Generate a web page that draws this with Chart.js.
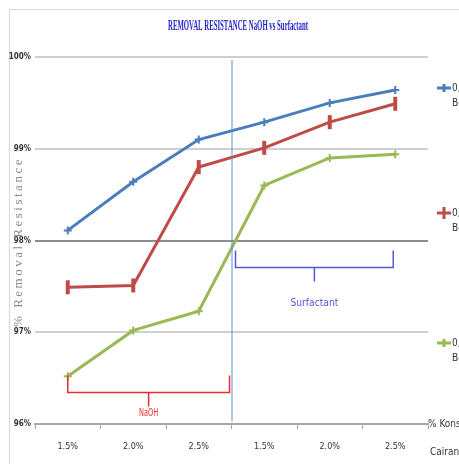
<!DOCTYPE html>
<html><head><meta charset="utf-8">
<script src="https://cdn.jsdelivr.net/npm/chart.js@4/dist/chart.umd.min.js"></script>
<style>html,body{margin:0;padding:0;background:#fff;overflow:hidden}#wrap{width:459px;height:464px;position:relative}</style>
</head><body><div id="wrap"><canvas id="c" width="459" height="464"></canvas></div>
<script>
const categories = ['1.5%','2.0%','2.5%','1.5%','2.0%','2.5%'];
const seriesNames = [['0,1 gr','Bentonit'],['0,2 gr','Bentonit'],['0,3 gr','Bentonit']];
const blueValues  = [98.11, 98.64, 99.10, 99.29, 99.50, 99.64];
const redValues   = [97.49, 97.51, 98.80, 99.01, 99.29, 99.49];
const greenValues = [96.52, 97.02, 97.23, 98.60, 98.90, 98.94];
const yTicks = [96, 97, 98, 99, 100];
const groupLabels = ['NaOH', 'Surfactant'];
const titleText = 'REMOVAL RESISTANCE NaOH vs Surfactant';
const yTitle = '% Removal Resistance';
const xTitle = ['% Konsentrasi', 'Cairan Pencuci'];

const COLORS = ['#4a7ebb', '#be4b48', '#98b954'];
const NARROW = "'Liberation Sans Narrow','DejaVu Sans Condensed','Liberation Sans',sans-serif";

function condensedText(ctx, text, x, y, width, align) {
  const w = ctx.measureText(text).width;
  const s = Math.min(1, width / w);
  ctx.save();
  ctx.translate(x, y);
  ctx.scale(s, 1);
  ctx.textAlign = align || 'center';
  ctx.fillText(text, 0, 0);
  ctx.restore();
}

const overlay = {
  id: 'overlay',
  beforeDraw(chart) {
    const ctx = chart.ctx;
    ctx.save();
    ctx.fillStyle = '#fff';
    ctx.fillRect(0, 0, chart.width, chart.height);
    ctx.strokeStyle = '#d9d9d9';
    ctx.lineWidth = 1;
    ctx.strokeRect(9.5, 9.5, 600, 600);
    ctx.restore();
  },
  afterDatasetsDraw(chart) {
    const ctx = chart.ctx;
    const xs = chart.scales.x, ys = chart.scales.y;
    const ca = chart.chartArea;
    ctx.save();
    // title
    ctx.fillStyle = '#2323c8';
    ctx.font = "bold 15px 'Liberation Serif','DejaVu Serif',serif";
    ctx.textBaseline = 'middle';
    condensedText(ctx, titleText, 238, 26, 140, 'center');

    // y axis title
    ctx.save();
    ctx.translate(19, 242);
    ctx.rotate(-Math.PI / 2);
    ctx.fillStyle = '#8a8a8a';
    ctx.font = "13px 'Liberation Serif','DejaVu Serif',serif";
    ctx.textAlign = 'center';
    ctx.textBaseline = 'middle';
    if (ctx.letterSpacing !== undefined) ctx.letterSpacing = '2.5px';
    ctx.fillText(yTitle, 0, 0);
    ctx.restore();

    // vertical separator
    const sep = (xs.getPixelForValue(2) + xs.getPixelForValue(3)) / 2;
    ctx.strokeStyle = '#5b8fd6';
    ctx.lineWidth = 1;
    ctx.beginPath();
    ctx.moveTo(sep + 0.5, 60);
    ctx.lineTo(sep + 0.5, ca.bottom - 3);
    ctx.stroke();

    // brackets
    function bracket(x1, x2, yv, color, label, labelDy) {
      const y = Math.round(ys.getPixelForValue(yv)) + 0.5;
      const mid = (x1 + x2) / 2;
      ctx.strokeStyle = color;
      ctx.lineWidth = 1.5;
      ctx.beginPath();
      ctx.moveTo(x1, y - 17);
      ctx.lineTo(x1, y);
      ctx.lineTo(x2, y);
      ctx.lineTo(x2, y - 17);
      ctx.moveTo(mid, y);
      ctx.lineTo(mid, y + 14);
      ctx.stroke();
      ctx.fillStyle = color;
      ctx.font = "11px " + NARROW;
      ctx.textBaseline = 'middle';
      condensedText(ctx, label, mid, y + labelDy, label.length * 4.8, 'center');
    }
    bracket(xs.getPixelForValue(0), sep - 2, 96.35, '#ee2a2a', groupLabels[0], 21);
    bracket(sep + 4, xs.getPixelForValue(5) - 2, 97.71, '#5555dd', groupLabels[1], 36);

    // legend
    const legY = [88, 213, 343];
    for (let i = 0; i < 3; i++) {
      const y = legY[i];
      ctx.strokeStyle = COLORS[i];
      ctx.lineWidth = 3;
      ctx.beginPath();
      ctx.moveTo(437, y); ctx.lineTo(451, y);
      ctx.moveTo(444, y - (i === 1 ? 6 : 4)); ctx.lineTo(444, y + (i === 1 ? 6 : 4));
      ctx.stroke();
      ctx.fillStyle = '#333';
      ctx.font = "10px " + NARROW;
      ctx.textAlign = 'left';
      ctx.textBaseline = 'middle';
      ctx.fillText(seriesNames[i][0], 452, y);
      ctx.fillText(seriesNames[i][1], 452, y + 15);
    }

    // x axis title
    ctx.fillStyle = '#333';
    ctx.font = "10px " + NARROW;
    ctx.textAlign = 'left';
    ctx.textBaseline = 'middle';
    ctx.fillText(xTitle[0], 428, ca.bottom);
    ctx.fillText(xTitle[1], 430, ca.bottom + 28);
    ctx.restore();
  }
};

function ds(values, i, style, radius) {
  return {
    data: values,
    borderColor: COLORS[i],
    backgroundColor: COLORS[i],
    borderWidth: 3,
    pointStyle: style,
    pointRadius: radius,
    pointBorderWidth: style === 'line' ? 4 : 2,
    pointRotation: style === 'line' ? 90 : 0,
    tension: 0,
    fill: false
  };
}

new Chart(document.getElementById('c'), {
  type: 'line',
  data: {
    labels: categories,
    datasets: [
      ds(blueValues, 0, 'cross', 4),
      ds(redValues, 1, 'line', 7),
      ds(greenValues, 2, 'cross', 4)
    ]
  },
  plugins: [overlay],
  options: {
    responsive: false,
    animation: false,
    devicePixelRatio: 1,
    layout: { padding: { left: 0, right: 31, top: 57, bottom: 0 } },
    plugins: { legend: { display: false }, tooltip: { enabled: false }, title: { display: false } },
    scales: {
      x: {
        type: 'category',
        offset: true,
        afterFit(s) { s.height = 40; },
        border: { display: true, color: '#a6a6a6', width: 2 },
        grid: { display: true, drawOnChartArea: false, drawTicks: true, tickLength: 5, offset: true, color: '#a6a6a6', lineWidth: 1 },
        ticks: { color: '#333', padding: 12, font: { family: NARROW, size: 9 }, maxRotation: 0, autoSkip: false }
      },
      y: {
        min: 96, max: 100,
        afterFit(s) { s.width = 35; },
        afterBuildTicks(s) { s.ticks = yTicks.map(v => ({ value: v })); },
        border: { display: false },
        grid: {
          drawTicks: false,
          color: c => (c.tick && c.tick.value === 98) ? '#8c8c8c' : '#cfcfcf',
          lineWidth: c => (c.tick && c.tick.value === 96) ? 0 : 2
        },
        ticks: { color: '#333', padding: 4, font: { family: NARROW, size: 8, weight: 'bold' }, callback: v => v + '%' }
      }
    }
  }
});
</script></body></html>
